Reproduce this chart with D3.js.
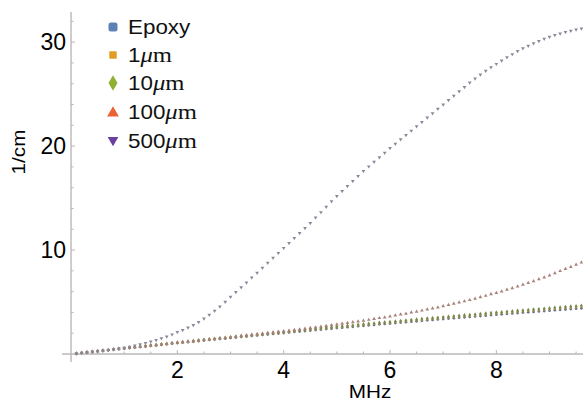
<!DOCTYPE html>
<html>
<head>
<meta charset="utf-8">
<script src="https://cdn.jsdelivr.net/npm/d3@7"></script>
<style>
  html, body { margin: 0; padding: 0; background: #fff; }
  svg { display: block; }
</style>
</head>
<body>
<svg id="chart" width="583" height="404"></svg>
<script>
// ---------------- data ----------------
const freq = [0.1,0.2,0.3,0.4,0.5,0.6,0.7,0.8,0.9,1.0,
  1.1,1.2,1.3,1.4,1.5,1.6,1.7,1.8,1.9,2.0,
  2.1,2.2,2.3,2.4,2.5,2.6,2.7,2.8,2.9,3.0,
  3.1,3.2,3.3,3.4,3.5,3.6,3.7,3.8,3.9,4.0,
  4.1,4.2,4.3,4.4,4.5,4.6,4.7,4.8,4.9,5.0,
  5.1,5.2,5.3,5.4,5.5,5.6,5.7,5.8,5.9,6.0,
  6.1,6.2,6.3,6.4,6.5,6.6,6.7,6.8,6.9,7.0,
  7.1,7.2,7.3,7.4,7.5,7.6,7.7,7.8,7.9,8.0,
  8.1,8.2,8.3,8.4,8.5,8.6,8.7,8.8,8.9,9.0,
  9.1,9.2,9.3,9.4,9.5,9.6];

const epoxy = [0.05,0.11,0.16,0.21,0.27,0.32,0.37,0.43,0.48,0.53,
  0.58,0.64,0.69,0.74,0.79,0.84,0.89,0.94,1.00,1.05,
  1.10,1.15,1.20,1.25,1.30,1.35,1.40,1.45,1.49,1.54,
  1.59,1.64,1.69,1.74,1.79,1.83,1.88,1.93,1.98,2.02,
  2.07,2.12,2.16,2.21,2.26,2.30,2.35,2.40,2.44,2.49,
  2.53,2.58,2.62,2.67,2.71,2.76,2.80,2.85,2.89,2.93,
  2.98,3.02,3.06,3.11,3.15,3.19,3.24,3.28,3.32,3.36,
  3.41,3.45,3.49,3.53,3.57,3.61,3.65,3.69,3.74,3.78,
  3.82,3.86,3.90,3.94,3.98,4.02,4.05,4.09,4.13,4.17,
  4.21,4.25,4.29,4.32,4.36,4.40];

const um1 = [0.05,0.11,0.17,0.22,0.28,0.33,0.38,0.44,0.49,0.55,
  0.60,0.66,0.71,0.76,0.81,0.86,0.92,0.97,1.03,1.08,
  1.13,1.18,1.23,1.29,1.34,1.39,1.44,1.49,1.53,1.59,
  1.64,1.69,1.74,1.79,1.84,1.88,1.94,1.99,2.04,2.08,
  2.13,2.18,2.22,2.28,2.33,2.37,2.42,2.47,2.51,2.57,
  2.61,2.66,2.70,2.75,2.79,2.84,2.89,2.94,2.98,3.02,
  3.07,3.11,3.15,3.21,3.25,3.29,3.34,3.38,3.42,3.47,
  3.52,3.56,3.60,3.64,3.68,3.72,3.77,3.81,3.86,3.90,
  3.94,3.98,4.02,4.07,4.11,4.15,4.18,4.22,4.26,4.31,
  4.35,4.39,4.43,4.46,4.50,4.54];

const um10 = [0.05,0.12,0.17,0.22,0.28,0.34,0.39,0.45,0.50,0.56,
  0.61,0.67,0.72,0.78,0.83,0.88,0.93,0.99,1.05,1.10,
  1.15,1.21,1.26,1.31,1.36,1.42,1.47,1.52,1.56,1.62,
  1.67,1.72,1.77,1.83,1.88,1.92,1.97,2.03,2.08,2.12,
  2.17,2.23,2.27,2.32,2.37,2.42,2.47,2.52,2.56,2.62,
  2.66,2.71,2.75,2.81,2.85,2.90,2.94,3.00,3.04,3.08,
  3.13,3.18,3.22,3.27,3.31,3.36,3.41,3.45,3.49,3.54,
  3.59,3.63,3.67,3.72,3.76,3.80,3.84,3.89,3.94,3.98,
  4.02,4.07,4.11,4.15,4.19,4.24,4.27,4.31,4.35,4.40,
  4.44,4.48,4.52,4.56,4.60,4.64];

const um100 = [0.05,0.11,0.17,0.22,0.28,0.33,0.38,0.44,0.49,0.55,
  0.60,0.66,0.71,0.76,0.81,0.86,0.92,0.97,1.03,1.09,
  1.14,1.19,1.24,1.30,1.35,1.41,1.46,1.51,1.56,1.62,
  1.68,1.73,1.79,1.85,1.90,1.95,2.02,2.08,2.14,2.19,
  2.25,2.32,2.37,2.44,2.51,2.57,2.64,2.71,2.77,2.85,
  2.91,2.99,3.06,3.13,3.20,3.29,3.37,3.46,3.53,3.61,
  3.71,3.80,3.88,3.99,4.08,4.18,4.29,4.39,4.49,4.60,
  4.73,4.84,4.96,5.07,5.19,5.32,5.47,5.60,5.75,5.88,
  6.03,6.19,6.34,6.51,6.66,6.84,7.01,7.19,7.37,7.56,
  7.77,7.98,8.19,8.38,8.59,8.80];

const um500 = [0.05,0.10,0.15,0.20,0.25,0.31,0.38,0.45,0.52,0.60,
  0.69,0.80,0.92,1.05,1.20,1.34,1.50,1.68,1.88,2.10,
  2.30,2.53,2.79,3.08,3.40,3.76,4.15,4.57,5.02,5.50,
  5.96,6.42,6.88,7.34,7.80,8.28,8.76,9.24,9.72,10.20,
  10.68,11.16,11.64,12.12,12.60,13.12,13.64,14.16,14.68,15.20,
  15.68,16.16,16.64,17.12,17.60,18.04,18.48,18.92,19.36,19.80,
  20.22,20.64,21.06,21.48,21.90,22.32,22.74,23.16,23.58,24.00,
  24.42,24.84,25.26,25.68,26.10,26.50,26.88,27.24,27.58,27.90,
  28.23,28.54,28.84,29.13,29.40,29.65,29.88,30.10,30.31,30.50,
  30.67,30.82,30.96,31.09,31.20,31.30];

const seriesNames = ["Epoxy", "1μm", "10μm", "100μm", "500μm"];
const xTicks = [2, 4, 6, 8];
const yTicks = [10, 20, 30];
const xLabel = "MHz";
const yLabel = "1/cm";

// ---------------- styling ----------------
const legendColors = ["#5E81B5", "#E19C24", "#8FB032", "#EB6235", "#6B3FA0"];
const dotColors    = ["#66708a", "#d2a35c", "#74894c", "#a9807a", "#8b879a"];
const shapes = [d3.symbolCircle, d3.symbolSquare, d3.symbolDiamond, d3.symbolTriangle, d3.symbolTriangle];
const dotSizes = [6, 5, 6, 6, 6];
const seriesData = [epoxy, um1, um10, um100, um500];

const svg = d3.select("#chart");
const x = d3.scaleLinear().domain([-0.17, 9.63]).range([62, 583]);
const y = d3.scaleLinear().domain([-0.77, 32.9]).range([362, 12]);

const axisColor = "#b8b8b8";
const fontSans = "'Liberation Sans', Arial, sans-serif";
const fontSerif = "'Liberation Serif', 'DejaVu Serif', serif";

// x axis
const xAxisG = svg.append("g").attr("transform", `translate(0,${y(0)})`);
xAxisG.append("line").attr("x1", x.range()[0]).attr("x2", x.range()[1])
  .attr("stroke", axisColor).attr("stroke-width", 1.4);
const xMinor = d3.range(0.5, 9.6, 0.5);
xAxisG.selectAll("line.minor").data(xMinor).join("line").attr("class", "minor")
  .attr("x1", d => x(d)).attr("x2", d => x(d))
  .attr("y1", 0).attr("y2", d => xTicks.includes(d) ? -4 : -2.5)
  .attr("stroke", axisColor).attr("stroke-width", 1);
xAxisG.selectAll("text").data(xTicks).join("text")
  .attr("x", d => x(d)).attr("y", 24)
  .attr("text-anchor", "middle")
  .attr("font-family", fontSans).attr("font-size", 23)
  .text(d => d);

// y axis
const yAxisG = svg.append("g").attr("transform", `translate(${x(0)},0)`);
yAxisG.append("line").attr("y1", y.range()[0]).attr("y2", y.range()[1])
  .attr("stroke", axisColor).attr("stroke-width", 1.4);
const yMinor = d3.range(2, 33, 2);
yAxisG.selectAll("line.minor").data(yMinor).join("line").attr("class", "minor")
  .attr("y1", d => y(d)).attr("y2", d => y(d))
  .attr("x1", 0).attr("x2", d => yTicks.includes(d) ? 4 : 2.5)
  .attr("stroke", axisColor).attr("stroke-width", 1);
yAxisG.selectAll("text").data(yTicks).join("text")
  .attr("x", -5).attr("y", d => y(d))
  .attr("dy", "0.36em")
  .attr("text-anchor", "end")
  .attr("font-family", fontSans).attr("font-size", 23)
  .text(d => d);

// axis titles
svg.append("text")
  .attr("transform", "translate(370,398) scale(1.15,1)")
  .attr("text-anchor", "middle").attr("font-family", fontSans).attr("font-size", 18)
  .text(xLabel);
svg.append("text")
  .attr("transform", "translate(25,152) rotate(-90) scale(1.15,1)")
  .attr("text-anchor", "middle").attr("font-family", fontSans).attr("font-size", 18)
  .text(yLabel);

// data points
seriesData.forEach((vals, i) => {
  const sym = d3.symbol().type(shapes[i]).size(dotSizes[i]);
  svg.append("g").selectAll("path").data(freq.map((f, k) => [f, vals[k]])).join("path")
    .attr("transform", d => `translate(${x(d[0])},${y(d[1])})` + (i === 4 ? " rotate(180)" : ""))
    .attr("d", sym)
    .attr("fill", dotColors[i]);
});

// legend
const leg = svg.append("g");
const legY = [27, 55, 83, 112, 141];
seriesNames.forEach((name, i) => {
  const cx = 113, cy = legY[i];
  if (i === 0) {
    leg.append("rect").attr("x", cx - 4.5).attr("y", cy - 4.5).attr("width", 9).attr("height", 9)
      .attr("rx", 2.5).attr("fill", legendColors[i]);
  } else {
    const size = [0, 55, 70, 60, 50][i];
    leg.append("path")
      .attr("transform", `translate(${cx},${cy + (i === 3 ? 1 : i === 4 ? -1 : 0)})` + (i === 4 ? " rotate(180)" : ""))
      .attr("d", d3.symbol().type(shapes[i]).size(size))
      .attr("fill", legendColors[i]);
  }
  const t = leg.append("text")
    .attr("transform", `translate(128,${cy}) scale(1.12,1)`)
    .attr("dy", "0.36em")
    .attr("font-family", fontSans).attr("font-size", 20).attr("fill", "#111");
  if (name.includes("μ")) {
    const num = name.replace("μm", "");
    t.append("tspan").text(num);
    t.append("tspan").attr("font-family", fontSerif)
      .attr("font-style", "italic").attr("font-size", 22).text("μ");
    t.append("tspan").attr("font-family", fontSerif)
      .attr("font-size", 22).text("m");
  } else {
    t.text(name);
  }
});
</script>
</body>
</html>
